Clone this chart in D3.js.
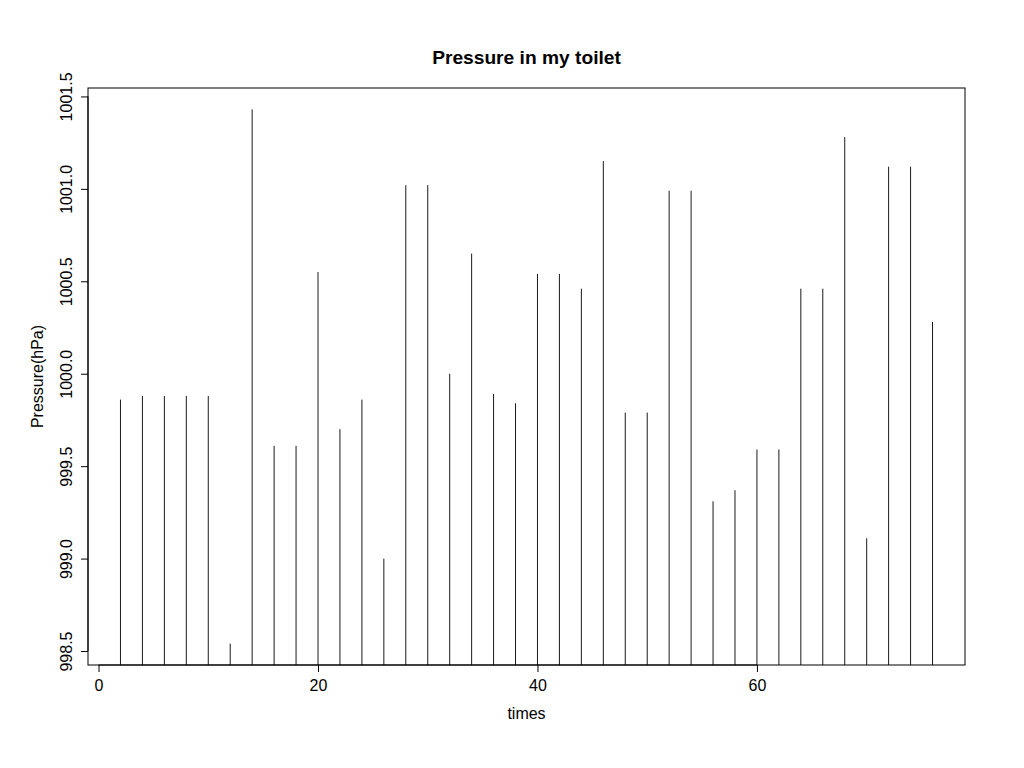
<!DOCTYPE html>
<html>
<head>
<meta charset="utf-8">
<script src="https://cdn.jsdelivr.net/npm/d3@7"></script>
<style>
  html, body { margin: 0; padding: 0; background: #fff; }
  svg { display: block; font-family: "Liberation Sans", Arial, Helvetica, sans-serif; }
</style>
</head>
<body>
<svg id="chart" width="1024" height="768"></svg>
<script>
// ---- data ----
const times = [2,4,6,8,10,12,14,16,18,20,22,24,26,28,30,32,34,36,38,40,42,44,46,48,50,52,54,56,58,60,62,64,66,68,70,72,74,76];
const pressure = [999.86,999.88,999.88,999.88,999.88,998.54,1001.43,999.61,999.61,1000.55,
                  999.70,999.86,999.00,1001.02,1001.02,1000.00,1000.65,999.89,999.84,1000.54,
                  1000.54,1000.46,1001.15,999.79,999.79,1000.99,1000.99,999.31,999.37,999.59,
                  999.59,1000.46,1000.46,1001.28,999.11,1001.12,1001.12,1000.28];
const xTicks = [0, 20, 40, 60];
const yTicks = [998.5, 999.0, 999.5, 1000.0, 1000.5, 1001.0, 1001.5];
const title = "Pressure in my toilet";
const xLabel = "times";
const yLabel = "Pressure(hPa)";

// ---- layout ----
const mLeft = 88, mRight = 965, mTop = 88, mBottom = 665;
const svg = d3.select("#chart");

// R-style 4% extension of data range
const xr = d3.extent(times), yr = d3.extent(pressure);
const xPad = (xr[1] - xr[0]) * 0.04, yPad = (yr[1] - yr[0]) * 0.04;
const x = d3.scaleLinear().domain([xr[0] - xPad, xr[1] + xPad]).range([mLeft, mRight]);
const y = d3.scaleLinear().domain([yr[0] - yPad, yr[1] + yPad]).range([mBottom, mTop]);

const fs = 16;

// bars (type="h")
svg.append("g").selectAll("line").data(times).join("line")
  .attr("x1", (d) => x(d)).attr("x2", (d) => x(d))
  .attr("y1", mBottom).attr("y2", (d, i) => y(pressure[i]))
  .attr("stroke", "#1a1a1a").attr("stroke-width", 1);

// box
svg.append("rect")
  .attr("x", mLeft).attr("y", mTop)
  .attr("width", mRight - mLeft).attr("height", mBottom - mTop)
  .attr("fill", "none").attr("stroke", "#000").attr("stroke-width", 1);

// x axis
const xa = svg.append("g").attr("transform", `translate(0,${mBottom})`)
  .call(d3.axisBottom(x).tickValues(xTicks).tickSize(7).tickPadding(8).tickFormat(d3.format("d")));
xa.select(".domain").remove();
xa.selectAll("text").attr("font-size", fs).attr("fill", "#000").attr("font-family", "Liberation Sans, Arial, sans-serif");
xa.selectAll("line").attr("stroke", "#000");
svg.append("line").attr("x1", x(xTicks[0])).attr("x2", x(xTicks[xTicks.length - 1]))
  .attr("y1", mBottom).attr("y2", mBottom).attr("stroke", "#000");

// y axis
const ya = svg.append("g").attr("transform", `translate(${mLeft},0)`)
  .call(d3.axisLeft(y).tickValues(yTicks).tickSize(7).tickFormat(d3.format(".1f")));
ya.select(".domain").remove();
ya.selectAll("line").attr("stroke", "#000");
ya.selectAll("text")
  .attr("x", null).attr("dy", null)
  .attr("text-anchor", "middle")
  .attr("transform", "translate(-16,0) rotate(-90)")
  .attr("font-size", fs).attr("fill", "#000").attr("font-family", "Liberation Sans, Arial, sans-serif");
svg.append("line").attr("y1", y(yTicks[0])).attr("y2", y(yTicks[yTicks.length - 1]))
  .attr("x1", mLeft).attr("x2", mLeft).attr("stroke", "#000");

// labels
svg.append("text").attr("x", (mLeft + mRight) / 2).attr("y", 64)
  .attr("text-anchor", "middle").attr("font-weight", "bold").attr("font-size", fs * 1.2)
  .text(title);
svg.append("text").attr("x", (mLeft + mRight) / 2).attr("y", 719)
  .attr("text-anchor", "middle").attr("font-size", fs).text(xLabel);
svg.append("text").attr("transform", `translate(43,${(mTop + mBottom) / 2}) rotate(-90)`)
  .attr("text-anchor", "middle").attr("font-size", fs).text(yLabel);
</script>
</body>
</html>
